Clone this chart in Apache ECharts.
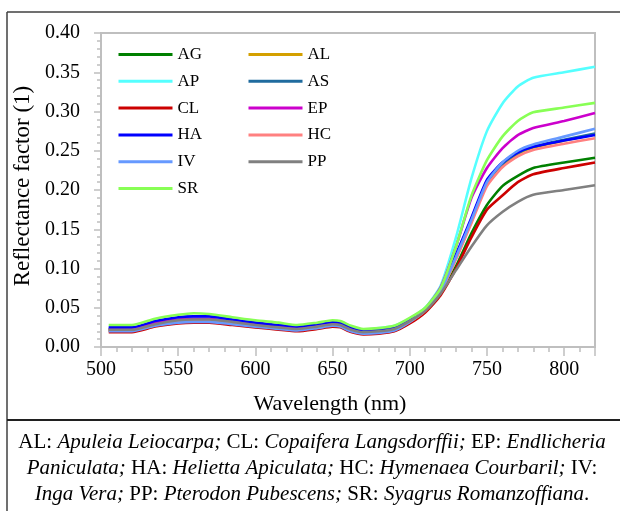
<!DOCTYPE html>
<html>
<head>
<meta charset="utf-8">
<script src="https://cdn.jsdelivr.net/npm/echarts@6/dist/echarts.min.js"></script>
<style>
  html, body { margin: 0; padding: 0; background: #fff; }
  #chart { width: 620px; height: 511px; }
</style>
</head>
<body>
<div id="chart"></div>
<script>
// wavelengths (nm)
const wavelengths = [505, 520, 535, 550, 560, 570, 585, 600, 615, 627, 640, 650, 655, 662, 670, 680, 690, 700,
  710, 720, 730, 740, 750, 760, 770, 780, 800, 820];

// reflectance factor per species
const AG = [.021, .021, .028, .032, .033, .033, .030, .027, .024, .022, .025, .028, .027, .021, .018, .019, .021, .031,
  .045, .068, .103, .145, .181, .205, .218, .228, .235, .241];
const AL = [.022, .022, .029, .033, .034, .034, .031, .028, .025, .023, .026, .029, .028, .022, .019, .020, .023, .033,
  .046, .070, .113, .160, .208, .232, .246, .254, .263, .271];
const AP = [.024, .024, .031, .035, .036, .036, .033, .030, .027, .025, .028, .031, .030, .025, .022, .024, .027, .036,
  .050, .078, .140, .215, .275, .310, .332, .343, .350, .357];
const AS = [.023, .023, .030, .034, .035, .035, .032, .029, .026, .024, .027, .030, .029, .023, .019, .020, .023, .033,
  .047, .071, .115, .162, .210, .233, .247, .255, .264, .272];
const CL = [.019, .019, .026, .030, .031, .031, .028, .025, .022, .020, .023, .026, .025, .019, .016, .017, .020, .030,
  .044, .066, .100, .140, .175, .193, .210, .220, .228, .235];
const EP = [.023, .023, .031, .035, .036, .036, .032, .029, .026, .024, .027, .030, .029, .023, .020, .021, .024, .034,
  .049, .076, .128, .190, .228, .253, .270, .279, .288, .298];
const HA = [.025, .025, .033, .038, .039, .039, .035, .031, .028, .026, .029, .032, .031, .025, .021, .022, .025, .034,
  .048, .073, .118, .165, .213, .235, .248, .255, .263, .270];
const HC = [.021, .021, .028, .032, .033, .033, .030, .027, .024, .022, .025, .028, .027, .021, .018, .019, .022, .032,
  .046, .070, .112, .158, .205, .229, .243, .251, .259, .266];
const IV = [.020, .020, .027, .031, .032, .032, .029, .026, .023, .021, .024, .027, .026, .020, .017, .018, .021, .032,
  .047, .071, .115, .162, .210, .235, .250, .258, .268, .278];
const PP = [.022, .022, .029, .034, .035, .035, .032, .028, .025, .023, .026, .029, .028, .022, .019, .020, .023, .033,
  .046, .068, .098, .128, .155, .172, .185, .194, .200, .206];
const SR = [.028, .028, .036, .041, .043, .042, .038, .034, .031, .028, .031, .034, .033, .027, .023, .024, .027, .037,
  .050, .075, .128, .193, .238, .268, .288, .299, .305, .311];

const seriesNames = ['AG', 'AL', 'AP', 'AS', 'CL', 'EP', 'HA', 'HC', 'IV', 'PP', 'SR'];
const seriesData = [AG, AL, AP, AS, CL, EP, HA, HC, IV, PP, SR];
const colors = ['#008000', '#d4a000', '#55ffff', '#1f6b9e', '#cc0000', '#cc00cc',
  '#0000ff', '#ff8080', '#6699ff', '#808080', '#88ff55'];

const yTicks = [0, 0.05, 0.1, 0.15, 0.2, 0.25, 0.3, 0.35, 0.4];
const xTicks = [500, 550, 600, 650, 700, 750, 800];

const font = '"Liberation Serif", "Times New Roman", serif';
const grey = '#bfbfbf';

const chart = echarts.init(document.getElementById('chart'));

const series = seriesNames.map((name, i) => ({
  name: name,
  type: 'line',
  data: wavelengths.map((w, j) => [w, seriesData[i][j]]),
  symbol: 'none',
  smooth: 0.2,
  lineStyle: { width: 2.6, color: colors[i] },
  itemStyle: { color: colors[i] }
}));

const legendBase = {
  orient: 'vertical',
  top: 46,
  padding: 0,
  itemWidth: 54,
  itemHeight: 17,
  itemGap: 9.8,
  selectedMode: false,
  itemStyle: { opacity: 0 },
  lineStyle: { width: 3 },
  textStyle: { fontFamily: font, fontSize: 17, color: '#000' }
};

const richCaption = {
  n: { fontFamily: font, fontSize: 21, color: '#000' },
  i: { fontFamily: font, fontSize: 21, fontStyle: 'italic', color: '#000' }
};

const option = {
  animation: false,
  backgroundColor: '#fff',
  grid: {
    left: 101, right: 25, top: 33, bottom: 164,
    show: true, borderColor: grey, borderWidth: 2
  },
  legend: [
    Object.assign({}, legendBase, { left: 117, data: ['AG', 'AP', 'CL', 'HA', 'IV', 'SR'] }),
    Object.assign({}, legendBase, { left: 247, data: ['AL', 'AS', 'EP', 'HC', 'PP'] })
  ],
  xAxis: [
    {
      type: 'value', min: 500, max: 820, interval: 10, position: 'bottom',
      axisLine: { show: true, lineStyle: { color: grey, width: 2 } },
      axisTick: { show: true, length: 5, lineStyle: { color: grey, width: 1.5 } },
      axisLabel: { show: false },
      splitLine: { show: false }
    },
    {
      type: 'value', min: 500, max: 820, interval: 50, position: 'bottom',
      name: 'Wavelength (nm)', nameLocation: 'middle', nameGap: 46,
      nameTextStyle: { fontFamily: font, fontSize: 22, color: '#000', padding: [0, 36, 0, 0] },
      axisLine: { show: false },
      axisTick: { show: true, length: 9, lineStyle: { color: grey, width: 1.5 } },
      axisLabel: {
        margin: 13, fontFamily: font, fontSize: 20, color: '#000',
        formatter: v => (xTicks.indexOf(v) >= 0 ? String(v) : '')
      },
      splitLine: { show: false }
    }
  ],
  yAxis: {
    type: 'value', min: 0, max: 0.4, interval: 0.05,
    name: 'Reflectance factor (1)', nameLocation: 'middle', nameGap: 59,
    nameTextStyle: { fontFamily: font, fontSize: 23, color: '#000', padding: [0, 0, 0, 8] },
    axisLine: { show: true, lineStyle: { color: grey, width: 2 } },
    axisTick: { show: true, length: 7, lineStyle: { color: grey, width: 1.5 } },
    minorTick: { show: true, splitNumber: 5, length: 4, lineStyle: { color: grey, width: 1.5 } },
    axisLabel: {
      margin: 21, fontFamily: font, fontSize: 20, color: '#000',
      formatter: v => (yTicks.some(t => Math.abs(t - v) < 1e-9) ? v.toFixed(2) : '')
    },
    splitLine: { show: false },
    minorSplitLine: { show: false }
  },
  graphic: [
    // outer frame (left + top) and caption separator
    { type: 'line', shape: { x1: 7, y1: 12, x2: 7, y2: 511 }, style: { stroke: '#404040', lineWidth: 1.5 } },
    { type: 'line', shape: { x1: 7, y1: 12, x2: 620, y2: 12 }, style: { stroke: '#404040', lineWidth: 1.5 } },
    { type: 'line', shape: { x1: 7, y1: 420, x2: 620, y2: 420 }, style: { stroke: '#202020', lineWidth: 2 } },
    {
      type: 'text', x: 312, y: 442,
      style: {
        text: '{n|AL: }{i|Apuleia Leiocarpa;}{n| CL: }{i|Copaifera Langsdorffii;}{n| EP: }{i|Endlicheria}',
        align: 'center', verticalAlign: 'middle', rich: richCaption
      }
    },
    {
      type: 'text', x: 312, y: 468,
      style: {
        text: '{i|Paniculata;}{n| HA: }{i|Helietta Apiculata;}{n| HC: }{i|Hymenaea Courbaril;}{n| IV:}',
        align: 'center', verticalAlign: 'middle', rich: richCaption
      }
    },
    {
      type: 'text', x: 312, y: 494,
      style: {
        text: '{i|Inga Vera;}{n| PP: }{i|Pterodon Pubescens;}{n| SR: }{i|Syagrus Romanzoffiana}{n|.}',
        align: 'center', verticalAlign: 'middle', rich: richCaption
      }
    }
  ],
  series: series
};

chart.setOption(option);
</script>
</body>
</html>
